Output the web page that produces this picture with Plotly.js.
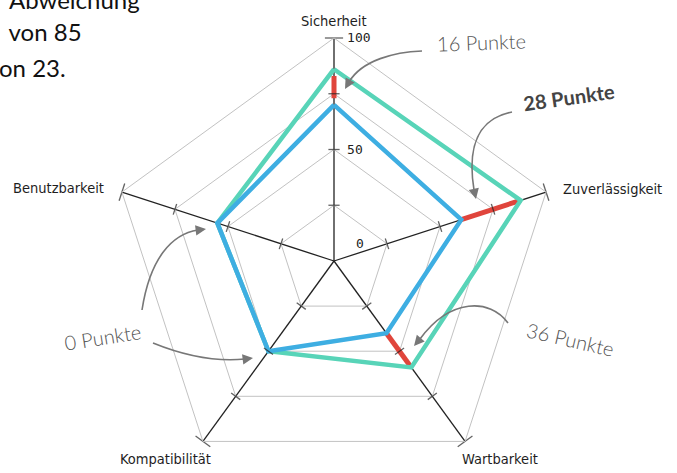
<!DOCTYPE html>
<html><head><meta charset="utf-8">
<script src="https://cdn.plot.ly/plotly-3.0.1.min.js"></script>
<style>html,body{margin:0;padding:0;overflow:hidden;background:#fff}#chart{width:677px;height:485px}</style>
</head><body><div id="chart"></div>
<script>
// ---- data ----
const categories = ['Sicherheit', 'Zuverlässigkeit', 'Wartbarkeit', 'Kompatibilität', 'Benutzbarkeit'];
const zielWerte = [86, 88, 59, 50, 55];   // teal
const istWerte  = [70, 60, 40, 50, 55];   // blue
const diffAchsen = ['Sicherheit', 'Zuverlässigkeit', 'Wartbarkeit'];
const diffVon = [73, 60, 40];
const diffBis = [83, 88, 59];
const gridWerte = [25, 50, 75, 100];
const gridText = ['', '50', '', '100'];
const achsenTicks = [25, 50, 75];
const achsenEnde = 100;
const hinweise = ['16 Punkte', '28 Punkte', '36 Punkte', '0 Punkte'];
const textZeilen = ['Abweichung', ' von 85', 'on 23.'];

// ---- traces ----
const close = a => a.concat([a[0]]);
const traces = [];

const redTheta = [], redR = [];
diffAchsen.forEach((c, i) => { redTheta.push(c, c, null); redR.push(diffVon[i], diffBis[i], null); });
traces.push({type: 'scatterpolar', mode: 'lines', theta: redTheta, r: redR, connectgaps: false,
  line: {color: '#e0453c', width: 5}, hoverinfo: 'skip', showlegend: false});

traces.push({type: 'scatterpolar', mode: 'lines', theta: close(categories), r: close(zielWerte),
  line: {color: '#58d4b8', width: 4.5}, showlegend: false});
traces.push({type: 'scatterpolar', mode: 'lines', theta: close(categories), r: close(istWerte),
  line: {color: '#3eaee2', width: 4.5}, showlegend: false});

const tT = [], tR = [], tA = [], tS = [];
categories.forEach((c, i) => {
  achsenTicks.forEach(v => { tT.push(c); tR.push(v); tA.push(i * 72); tS.push(8); });
  tT.push(c); tR.push(achsenEnde); tA.push(i * 72); tS.push(13);
});
traces.push({type: 'scatterpolar', mode: 'markers', theta: tT, r: tR,
  marker: {symbol: 'line-ew', size: tS, angle: tA, color: '#222', line: {color: '#222', width: 1.3}},
  hoverinfo: 'skip', showlegend: false, cliponaxis: false});

// ---- annotations & arrows (pixel overlay) ----
const fontNote = {family: 'Lato, Roboto, sans-serif', size: 20, color: '#555', weight: 300};
const fontText = {family: 'Lato, Roboto, sans-serif', size: 24, color: '#111'};
const fontAxis = {family: 'DejaVu Sans Condensed, DejaVu Sans, sans-serif', size: 14.5, color: '#1e1e1e'};
const annotations = [
  {x: 481, y: 42, text: hinweise[0], textangle: -2, font: fontNote},
  {x: 569, y: 97, text: '<b>' + hinweise[1] + '</b>', textangle: -8, font: Object.assign({}, fontNote, {color: '#444', weight: 700})},
  {x: 570, y: 339, text: hinweise[2], textangle: 13, font: fontNote},
  {x: 102, y: 337, text: hinweise[3], textangle: -9, font: fontNote},
  {x: 7, y: 0, yshift: 1, text: textZeilen[0], xanchor: 'left', font: fontText},
  {x: 1, y: 31, text: textZeilen[1], xanchor: 'left', font: fontText},
  {x: 0, y: 67, xshift: -3, text: textZeilen[2], xanchor: 'left', font: fontText},
  {x: 354, y: 243, text: '0', xanchor: 'left', font: {family: 'DejaVu Sans Mono, monospace', size: 13, color: '#222'}},
  // axis category labels
  {x: 334, y: 21, text: categories[0], xanchor: 'center', font: fontAxis},
  {x: 561, y: 189, text: categories[1], xanchor: 'left', font: fontAxis},
  {x: 500, y: 459, text: categories[2], xanchor: 'center', font: fontAxis},
  {x: 165, y: 459, text: categories[3], xanchor: 'center', font: fontAxis},
  {x: 106, y: 188, text: categories[4], xanchor: 'right', font: fontAxis}
].map(a => Object.assign({xref: 'x', yref: 'y', showarrow: false}, a));

const arrowPaths = [
  {d: 'M422,51 C395,52 362,60 349,82', tail: [349, 82], head: [345, 89]},
  {d: 'M512,112 C482,118 466,140 474,190', tail: [474, 190], head: [476, 199]},
  {d: 'M508,323 C490,298 450,298 420,339', tail: [420, 339], head: [414, 346]},
  {d: 'M142,310 C150,258 172,234 198,230', tail: [198, 230], head: [206, 229]},
  {d: 'M153,343 C185,356 215,362 245,359', tail: [245, 359], head: [253, 358]}
];
const shapes = arrowPaths.map(p => ({type: 'path', xref: 'x', yref: 'y', path: p.d, line: {color: '#777', width: 1.6}}));
arrowPaths.forEach(p => annotations.push({xref: 'x', yref: 'y', axref: 'x', ayref: 'y', x: p.head[0], y: p.head[1],
  ax: p.tail[0], ay: p.tail[1], text: '', showarrow: true, arrowhead: 2, arrowsize: 1.3, arrowwidth: 1.6, arrowcolor: '#777', standoff: 0}));

const W = 677, H = 485, R = 223, cx = 334, cy = 261;
const layout = {
  width: W, height: H, margin: {l: 0, r: 0, t: 0, b: 0},
  paper_bgcolor: '#fff', plot_bgcolor: 'rgba(0,0,0,0)', showlegend: false,
  xaxis: {range: [0, W], domain: [0, 1], visible: false, fixedrange: true},
  yaxis: {range: [H, 0], domain: [0, 1], visible: false, fixedrange: true},
  polar: {
    domain: {x: [(cx - R) / W, (cx + R) / W], y: [(H - cy - R) / H, (H - cy + R) / H]},
    gridshape: 'linear', bgcolor: 'rgba(0,0,0,0)',
    radialaxis: {range: [0, 100], angle: 90, tickangle: 90, tickvals: gridWerte, ticktext: gridText, showline: false,
      ticks: 'outside', ticklen: 10, tickcolor: 'rgba(0,0,0,0)',
      gridcolor: '#c2c2c2', gridwidth: 1, side: 'clockwise',
      tickfont: {family: 'DejaVu Sans Mono, monospace', size: 13, color: '#222'}},
    angularaxis: {type: 'category', categoryarray: categories, direction: 'clockwise', rotation: 90,
      showline: true, linecolor: '#c2c2c2', linewidth: 1, gridcolor: '#222', gridwidth: 1.3,
      ticks: '', showticklabels: false}
  },
  shapes: shapes, annotations: annotations
};
Plotly.newPlot('chart', traces, layout, {staticPlot: true, displayModeBar: false});
</script></body></html>
